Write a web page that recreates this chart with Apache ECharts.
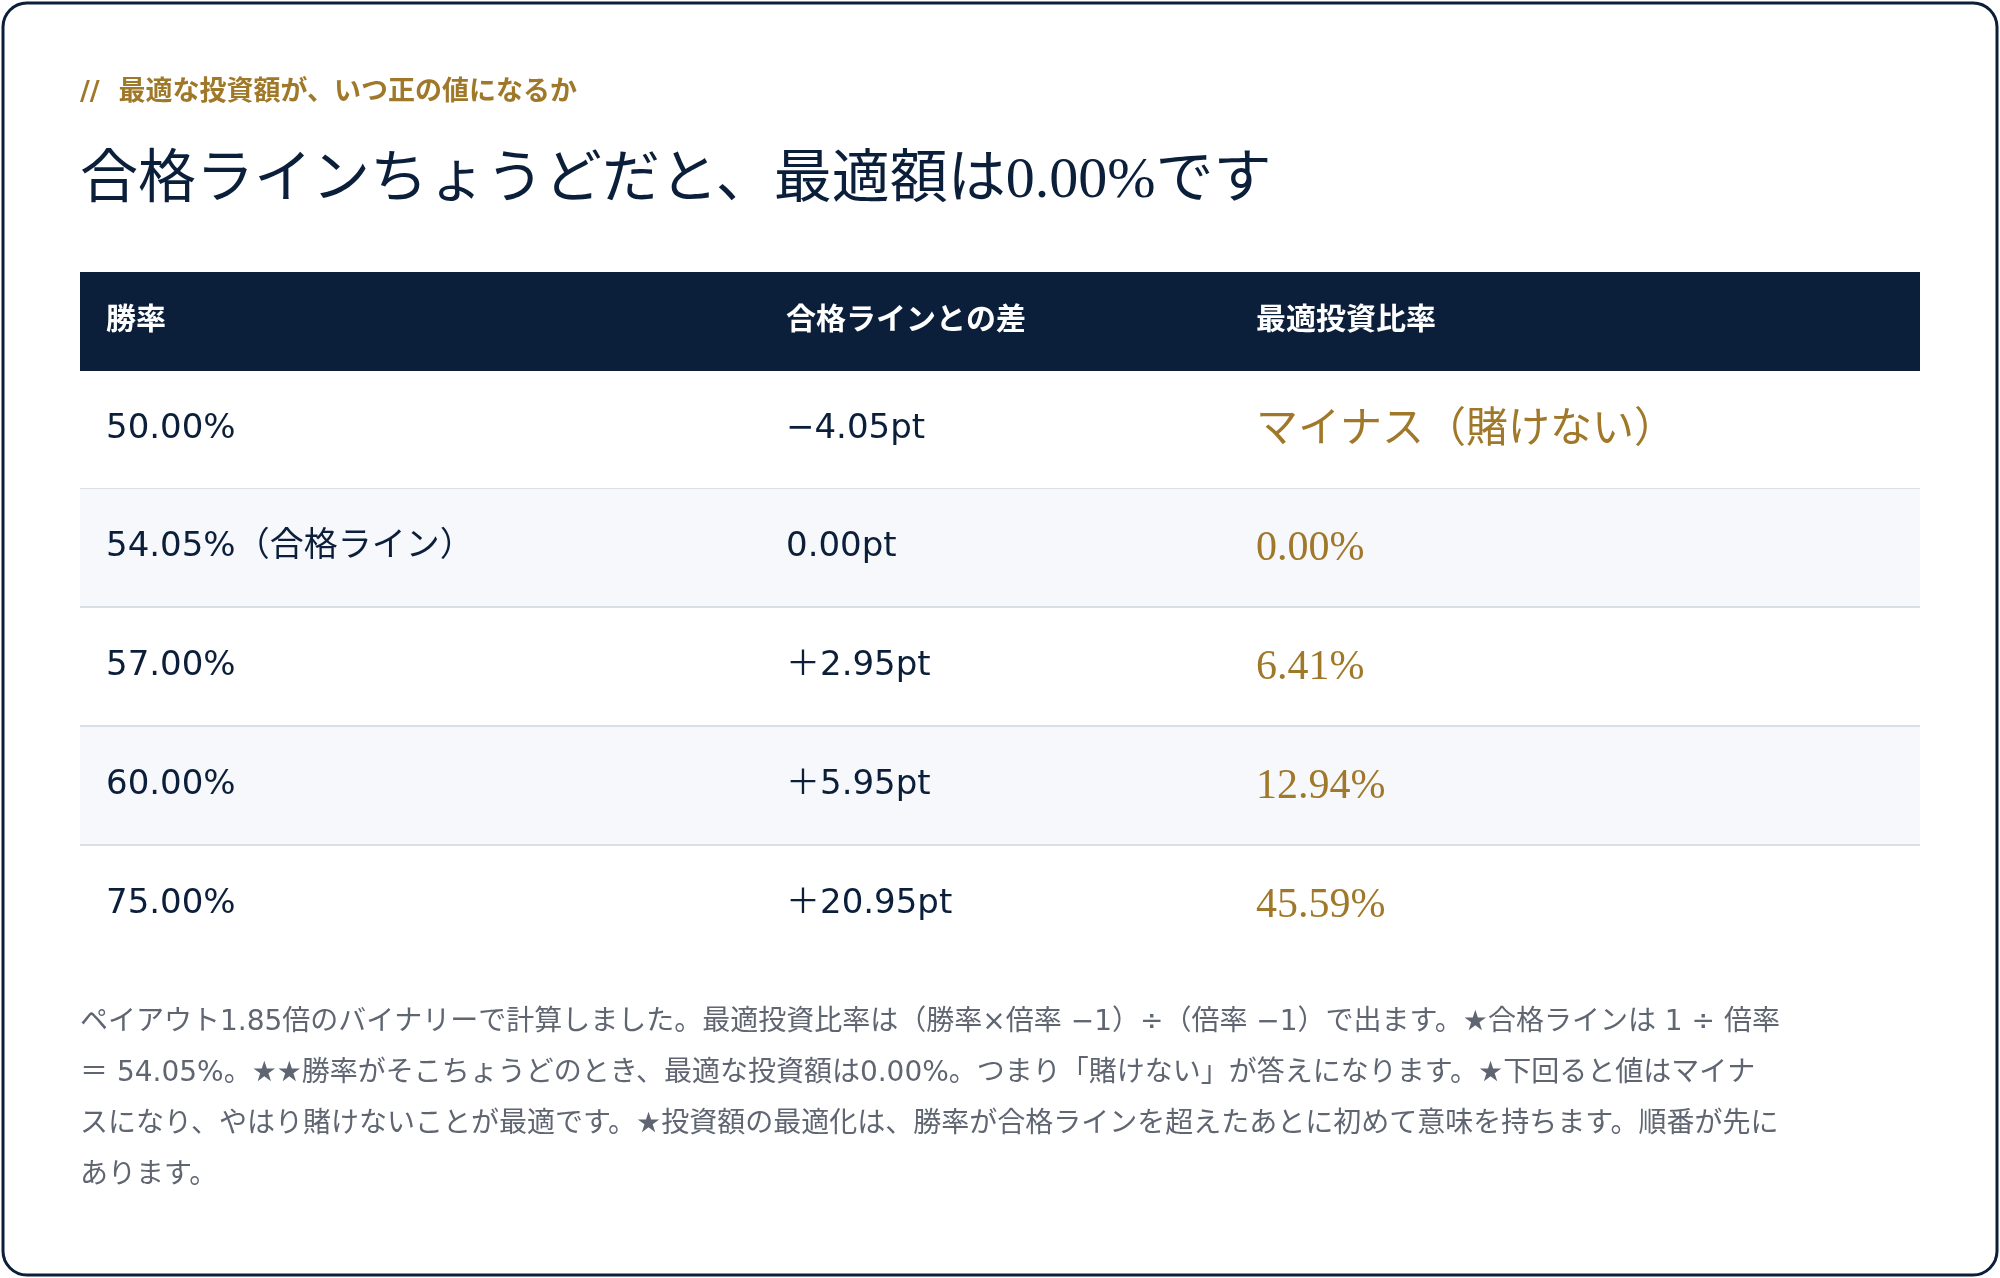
<!DOCTYPE html>
<html lang="ja">
<head>
<meta charset="UTF-8">
<title>最適投資比率</title>
<script src="https://cdn.jsdelivr.net/npm/echarts@6/dist/echarts.min.js"></script>
<style>
  html, body { margin: 0; width: 100%; height: 100%; background: #ffffff; }
  #chart { width: 2000px; height: 1278px; }
</style>
</head>
<body>
<div id="chart"></div>
<script>
var headers = ['勝率', '合格ラインとの差', '最適投資比率'];
var winRates = ['50.00%', '54.05%（合格ライン）', '57.00%', '60.00%', '75.00%'];
var diffs = ['−4.05pt', '0.00pt', '＋2.95pt', '＋5.95pt', '＋20.95pt'];
var optimal = ['マイナス（賭けない）', '0.00%', '6.41%', '12.94%', '45.59%'];
var noteLines = [
  'ペイアウト1.85倍のバイナリーで計算しました。最適投資比率は（勝率×倍率 −1）÷（倍率 −1）で出ます。★合格ラインは 1 ÷ 倍率',
  '＝ 54.05%。★★勝率がそこちょうどのとき、最適な投資額は0.00%。つまり「賭けない」が答えになります。★下回ると値はマイナ',
  'スになり、やはり賭けないことが最適です。★投資額の最適化は、勝率が合格ラインを超えたあとに初めて意味を持ちます。順番が先に',
  'あります。'
];

var navy = '#0B1F3A', gold = '#A0782A';
var sans = '"DejaVu Sans", "Noto Sans CJK JP", sans-serif';
var serif = '"Liberation Serif", "Noto Sans CJK JP", serif';
var colX = [106, 786, 1256];
var rowTop = [371, 489, 608, 727, 846], rowH = 118;

var els = [];
els.push({ type: 'rect', shape: { x: 3, y: 3, width: 1994, height: 1272, r: 24 },
  style: { fill: '#fff', stroke: navy, lineWidth: 3 } });
els.push({ type: 'text', x: 80, y: 93, style: { text: '//  最適な投資額が、いつ正の値になるか',
  font: 'bold 27px ' + sans, fill: gold, textVerticalAlign: 'middle' } });
els.push({ type: 'text', x: 80, y: 182, style: { text: '合格ラインちょうどだと、最適額は0.00%です',
  font: '58px ' + serif, fill: navy, textVerticalAlign: 'middle' } });
els.push({ type: 'rect', shape: { x: 80, y: 272, width: 1840, height: 99 }, style: { fill: navy } });
headers.forEach(function (h, i) {
  els.push({ type: 'text', x: colX[i], y: 321, style: { text: h, font: 'bold 30px ' + sans,
    fill: '#fff', textVerticalAlign: 'middle' } });
});
winRates.forEach(function (w, r) {
  var y = rowTop[r];
  if (r % 2 === 1) els.push({ type: 'rect', shape: { x: 80, y: y, width: 1840, height: rowH }, style: { fill: '#F6F8FB' } });
  if (r < winRates.length - 1) els.push({ type: 'line', shape: { x1: 80, y1: y + rowH, x2: 1920, y2: y + rowH },
    style: { stroke: '#D9DFE7', lineWidth: 2 } });
  var cy = y + rowH / 2 - 1;
  els.push({ type: 'text', x: colX[0], y: cy, style: { text: w, font: '34px ' + sans, fill: navy, textVerticalAlign: 'middle' } });
  els.push({ type: 'text', x: colX[1], y: cy, style: { text: diffs[r], font: '34px ' + sans, fill: navy, textVerticalAlign: 'middle' } });
  els.push({ type: 'text', x: colX[2], y: cy + 2, style: { text: optimal[r], font: '42px ' + serif, fill: gold, textVerticalAlign: 'middle' } });
});
noteLines.forEach(function (t, i) {
  els.push({ type: 'text', x: 80, y: 1023 + i * 51, style: { text: t, font: '28px ' + sans,
    fill: '#5F6672', textVerticalAlign: 'middle' } });
});

var chart = echarts.init(document.getElementById('chart'));
chart.setOption({ animation: false, graphic: { elements: els } });
</script>
</body>
</html>
